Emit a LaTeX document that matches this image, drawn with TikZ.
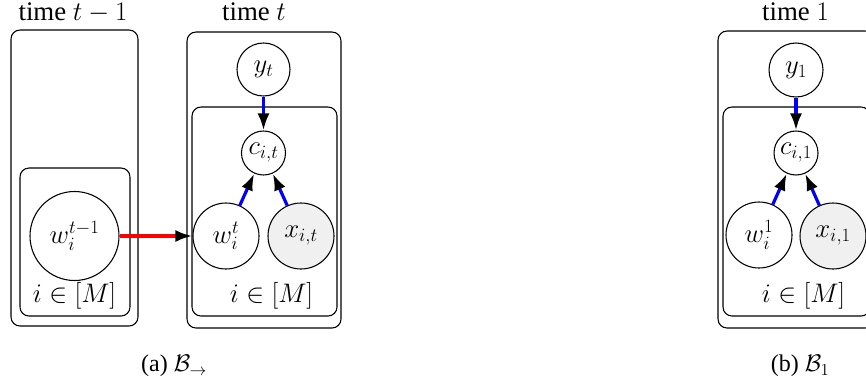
\RequirePackage{fix-cm}
\documentclass[tikz,border=0pt]{standalone}
\usepackage{fontspec}
\setmainfont{Liberation Serif}
\usetikzlibrary{arrows.meta}
\tikzset{
  x=1pt, y=-1pt,
  every node/.style={font=\fontsize{26.8}{32}\selectfont},
  var/.style={circle, draw, line width=1.07pt, inner sep=0pt},
  obs/.style={var, fill=black!6},
  plate/.style={draw, line width=1.07pt, rounded corners=9pt},
  headtip/.style={-{Latex[length=17pt,width=12pt,color=black]}},
  edgeblue/.style={draw=blue, line width=3.2pt, headtip},
  edgered/.style={draw=red, line width=3.2pt, headtip},
  platelabel/.style={anchor=base, inner sep=0pt},
  caption/.style={font=\fontsize{24}{28}\selectfont},
}
\begin{document}
\begin{tikzpicture}
\clip (0,0) rectangle (866,381);

% ---- slice at time t-1 ----
\node[platelabel] (tprev) at (73,20.5) {time $t-1$};
\draw[plate] (11,30) rectangle (138,326);
\draw[plate] (20,168) rectangle (130,316);
\node[var, minimum size=89pt] (wprev) at (74.5,236) {$w_i^{t-1}$};
\node[platelabel] (mprev) at (74.5,302) {$i\in[M]$};

% ---- slice at time t ----
\node[platelabel] (tcur) at (254,20.5) {time $t$};
\draw[plate] (187,32) rectangle (341,328);
\draw[plate] (192,107) rectangle (337,316);
\node[var, minimum size=53pt] (yt) at (263.5,69.5) {$y_t$};
\node[var, minimum size=44pt] (cit) at (263.5,153) {$c_{i,t}$};
\node[var, minimum size=66pt] (wt) at (226,236) {$w_i^t$};
\node[obs, minimum size=66pt] (xit) at (301,236) {$x_{i,t}$};
\node[platelabel] (mcur) at (271.5,302) {$i\in[M]$};

\draw[edgeblue] (yt) -- (cit);
\draw[edgeblue] (wt) -- (cit);
\draw[edgeblue] (xit) -- (cit);
\draw[edgered] (wprev) -- (wt);

% ---- initial slice ----
\node[platelabel] (tone) at (795.5,20.5) {time $1$};
\draw[plate] (718,31) rectangle (874,328);
\draw[plate] (723,107) rectangle (870,316);
\node[var, minimum size=54pt] (y1) at (796,70) {$y_1$};
\node[var, minimum size=44pt] (ci1) at (796,153) {$c_{i,1}$};
\node[var, minimum size=66pt] (w1) at (759,235) {$w_i^1$};
\node[obs, minimum size=66pt] (xi1) at (833,236) {$x_{i,1}$};
\node[platelabel] (mone) at (803.5,302) {$i\in[M]$};

\draw[edgeblue] (y1) -- (ci1);
\draw[edgeblue] (w1) -- (ci1);
\draw[edgeblue] (xi1) -- (ci1);

% ---- captions ----
\node[caption] (capa) at (174,366) {(a) $\mathcal{B}_{\to}$};
\node[caption] (capb) at (800,366) {(b) $\mathcal{B}_{1}$};
\end{tikzpicture}
\end{document}
